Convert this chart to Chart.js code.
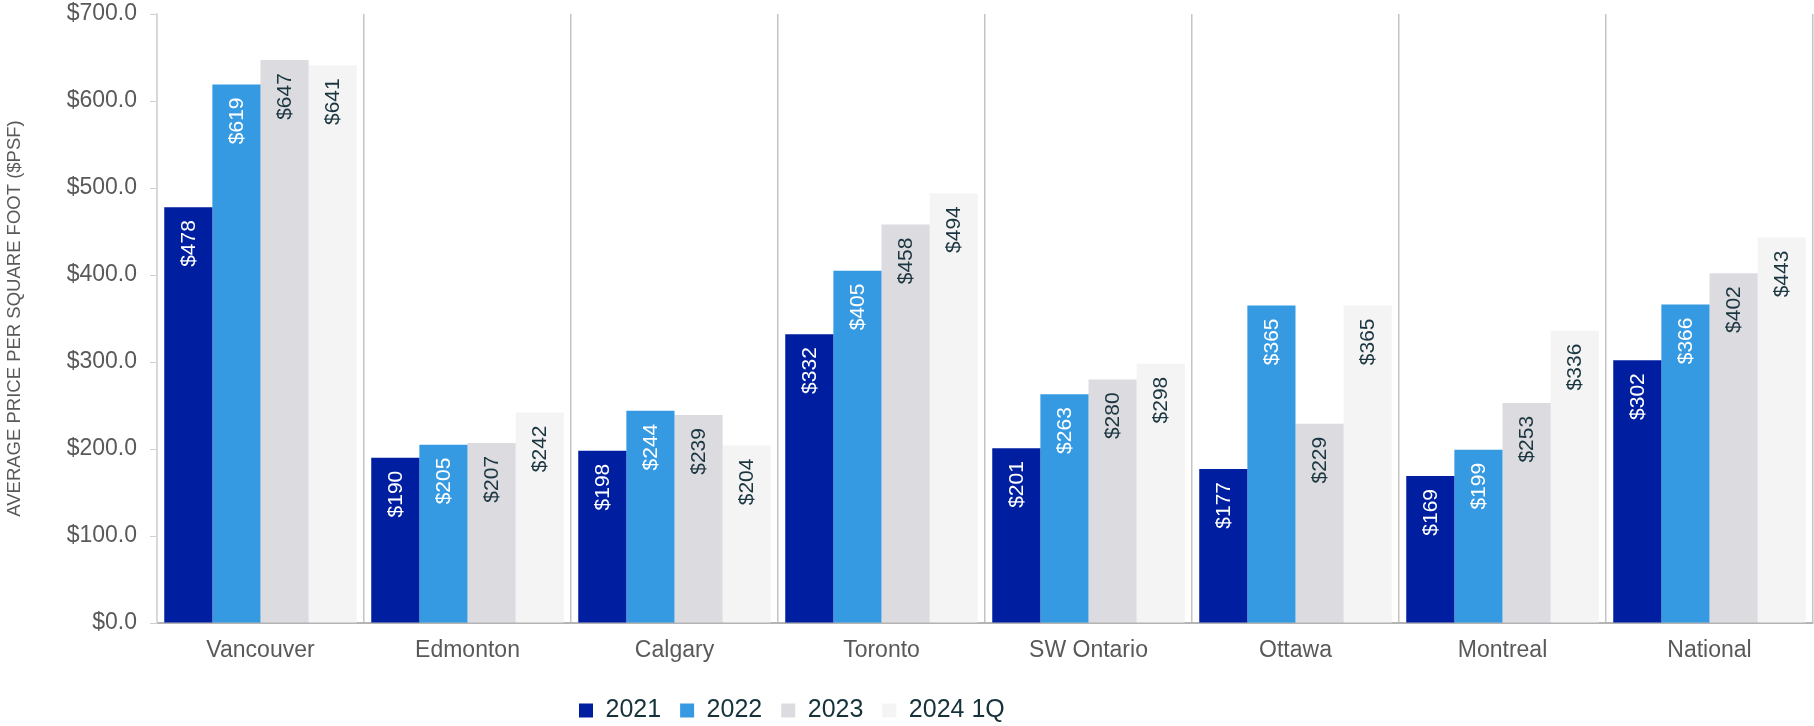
<!DOCTYPE html>
<html>
<head>
<meta charset="utf-8">
<title>Average price per square foot</title>
<script src="https://cdn.jsdelivr.net/npm/chart.js@4/dist/chart.umd.min.js"></script>
<style>
    html, body { margin: 0; padding: 0; background: #ffffff; }
    #wrap { width: 1814px; height: 726px; position: relative; }
</style>
</head>
<body>
<div id="wrap"><canvas id="psfChart"></canvas></div>
<script>
    const markets = ["Vancouver", "Edmonton", "Calgary", "Toronto", "SW Ontario", "Ottawa", "Montreal", "National"];
    const psf2021 = [478, 190, 198, 332, 201, 177, 169, 302];
    const psf2022 = [619, 205, 244, 405, 263, 365, 199, 366];
    const psf2023 = [647, 207, 239, 458, 280, 229, 253, 402];
    const psf2024q1 = [641, 242, 204, 494, 298, 365, 336, 443];
    const yTicks = [0, 100, 200, 300, 400, 500, 600, 700];

    const seriesColors = ["#001ea0", "#369ae2", "#dcdbe0", "#f4f4f4"];
    const labelColors = ["#ffffff", "#ffffff", "#1b3640", "#1b3640"];
    const FONT = "'Liberation Sans', Arial, sans-serif";

    // vertical value labels drawn just inside the top of every bar
    const barValuePlugin = {
        id: "barValuePlugin",
        afterDatasetsDraw(chart) {
            const ctx = chart.ctx;
            chart.data.datasets.forEach((ds, di) => {
                const meta = chart.getDatasetMeta(di);
                meta.data.forEach((bar, i) => {
                    ctx.save();
                    ctx.translate(bar.x, bar.y + 13);
                    ctx.rotate(-Math.PI / 2);
                    ctx.textAlign = "right";
                    ctx.textBaseline = "middle";
                    ctx.font = "21px " + FONT;
                    ctx.fillStyle = labelColors[di];
                    ctx.fillText("$" + ds.data[i], 0, 1);
                    ctx.restore();
                });
            });
        },
    };

    // legend sits left of centre and a little lower than the default box
    const legendPlacePlugin = {
        id: "legendPlacePlugin",
        afterLayout(chart) {
            const lg = chart.legend;
            if (!lg) return;
            lg.left = 560;
            lg.top += 7;
            lg.bottom += 7;
        },
    };

    const datasets = [
        { label: "2021", data: psf2021 },
        { label: "2022", data: psf2022 },
        { label: "2023", data: psf2023 },
        { label: "2024 1Q", data: psf2024q1 },
    ].map((ds, i) => ({
        ...ds,
        backgroundColor: seriesColors[i],
        borderWidth: 0,
        barPercentage: 1.0,
        categoryPercentage: 0.93,
    }));

    new Chart(document.getElementById("psfChart"), {
        type: "bar",
        data: { labels: markets, datasets: datasets },
        options: {
            responsive: true,
            maintainAspectRatio: false,
            animation: false,
            layout: { padding: { top: 14, right: 1, left: 0, bottom: 0 } },
            plugins: {
                tooltip: { enabled: false },
                legend: {
                    position: "bottom",
                    align: "start",
                    labels: {
                        boxWidth: 14,
                        boxHeight: 14,
                        padding: 19,
                        color: "#16323a",
                        font: { family: FONT, size: 25 },
                    },
                },
            },
            scales: {
                x: {
                    offset: true,
                    afterFit(scale) {
                        scale.height = 49;
                    },
                    grid: {
                        display: true,
                        offset: true,
                        drawTicks: false,
                        color: "#c4c4c4",
                        lineWidth: 1.5,
                    },
                    border: { color: "#b4b4b4", width: 2 },
                    ticks: {
                        color: "#595959",
                        padding: 14,
                        font: { family: FONT, size: 23 },
                    },
                },
                y: {
                    min: 0,
                    max: 700,
                    afterBuildTicks(scale) {
                        scale.ticks = yTicks.map((v) => ({ value: v }));
                    },
                    afterFit(scale) {
                        scale.width = 157;
                        scale.paddingTop = 0;
                        scale.paddingBottom = 0;
                    },
                    grid: {
                        display: true,
                        drawOnChartArea: false,
                        drawTicks: true,
                        tickLength: 7,
                        color: "#d0d0d0",
                    },
                    border: { color: "#d6d6d6", width: 1.5 },
                    ticks: {
                        color: "#595959",
                        padding: 13,
                        font: { family: FONT, size: 23 },
                        callback: (v) => "$" + Number(v).toFixed(1),
                    },
                    title: {
                        display: true,
                        text: "AVERAGE PRICE PER SQUARE FOOT ($PSF)",
                        color: "#595959",
                        padding: { top: 4, bottom: 0 },
                        font: { family: FONT, size: 18.5 },
                    },
                },
            },
        },
        plugins: [barValuePlugin, legendPlacePlugin],
    });
</script>
</body>
</html>
